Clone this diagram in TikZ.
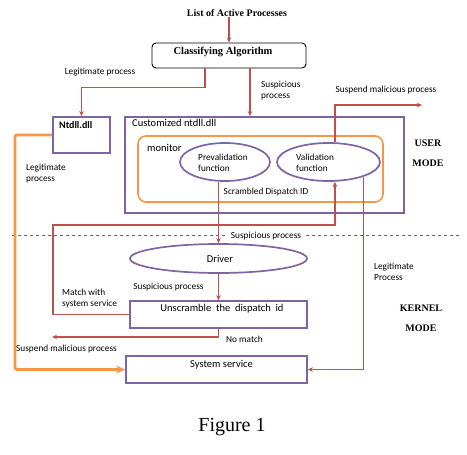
\documentclass[tikz,border=0pt]{standalone}
\usepackage{fontspec}
\setmainfont{Liberation Serif}
\newfontfamily\carl{Carlito}
\usetikzlibrary{arrows.meta,shapes.geometric}
\definecolor{redc}{RGB}{192,80,77}
\definecolor{purc}{RGB}{128,100,162}
\definecolor{orc}{RGB}{247,150,70}
\tikzset{
  redarr/.style={draw=redc, line width=1.3pt, -{Stealth[length=5pt,width=4.5pt]}},
  orarr/.style={draw=orc, line width=2.8pt, rounded corners=2pt, -{Stealth[length=9pt,width=8pt]}},
  pbox/.style={draw=purc, line width=1.7pt, rectangle, inner sep=0pt},
  pell/.style={draw=purc, line width=1.7pt, ellipse, inner sep=0pt},
  lbl/.style={font=\carl\fontsize{9.3}{11}\selectfont, inner sep=0pt, align=left},
  btxt/.style={font=\carl\fontsize{10.5}{12}\selectfont, inner sep=0pt},
  stxt/.style={font=\bfseries\fontsize{10}{12}\selectfont, inner sep=0pt},
}
\begin{document}
\begin{tikzpicture}[x=1pt,y=-1pt]
\useasboundingbox (0,0) rectangle (467,455);
% top
\node[stxt] (list) at (237,13) {List of Active Processes};
\node[draw=black, line width=0.9pt, rounded corners=4pt, minimum width=154pt, minimum height=25pt, inner sep=0pt] (classify) at (229,55.5) {};
\node[stxt, font=\bfseries\fontsize{10.5}{12}\selectfont] (classifyt) at (223,52) {Classifying Algorithm};
% boxes
\node[pbox, minimum width=57pt, minimum height=36pt] (ntdll) at (81.5,135) {};
\node[pbox, minimum width=279pt, minimum height=96pt] (custom) at (264.5,165) {};
\node[draw=orc, line width=1.6pt, rounded corners=8pt, minimum width=245pt, minimum height=66pt, inner sep=0pt] (monitor) at (260.5,169) {};
\node[pell, minimum width=90pt, minimum height=38pt] (prev) at (225,162) {};
\node[pell, minimum width=103pt, minimum height=38pt] (valid) at (328.5,162) {};
\node[pell, minimum width=177pt, minimum height=29pt] (driver) at (218.5,258.5) {};
\node[pbox, minimum width=177pt, minimum height=27pt] (unscr) at (218.5,314.5) {};
\node[pbox, minimum width=181pt, minimum height=27pt] (sys) at (216.5,369.5) {};
% texts in boxes
\node[btxt, anchor=west, font=\carl\bfseries\fontsize{10}{12}\selectfont] (ntdllt) at (59,125) {Ntdll.dll};
\node[btxt, anchor=west] (customt) at (132,123) {Customized ntdll.dll};
\node[btxt, anchor=west] (monitort) at (147,148) {monitor};
\node[lbl, anchor=west] (prevt) at (198,162.5) {Prevalidation\\function};
\node[lbl, anchor=west] (validt) at (296,162.5) {Validation\\function};
\node[lbl] (scr) at (266,192) {Scrambled Dispatch ID};
\node[btxt] (drivert) at (220,258.5) {Driver};
\node[btxt] (unscrt) at (222,309) {Unscramble\ \ the\ \ dispatch\ \ id};
\node[btxt] (syst) at (221.5,365) {System service};
% mode labels
\node[stxt] (user) at (428,143) {USER};
\node[stxt] (umode) at (428,163) {MODE};
\node[stxt] (kernel) at (421,308) {KERNEL};
\node[stxt] (kmode) at (421,328) {MODE};
% dashed line
\coordinate (dl1) at (12,235);
\coordinate (dl2) at (460,235);
\draw[gray!80!black, dashed, line width=0.6pt] (dl1) -- (dl2);
% coordinates
\coordinate (suspend) at (422,105);
\coordinate (ocorner) at (15,0);
\coordinate (mcorner) at (53,225);
\coordinate (nomatch) at (52,337);
% connectors
\draw[redarr] (classify.north |- list.south) -- (classify.north);
\draw[redarr] ([xshift=-24pt]classify.south) -- ++(0,19) -| (ntdll.north);
\draw[redarr] ([xshift=21pt]classify.south) -- ([xshift=21pt]classify.south |- custom.north);
\draw[redarr] ([xshift=6.5pt]valid.north) |- (suspend);
\draw[orarr] (ntdll.west) -| (ocorner |- sys.west) -- (sys.west);
\draw[redarr] (unscr.west) -| (mcorner) -| ([xshift=6.5pt]valid.south);
\draw[redarr] (driver.north |- prev.south) -- (driver.north);
\draw[redarr] (valid.-23) |- (sys.east);
\draw[redarr] (driver.south) -- (unscr.north);
\draw[redarr] (unscr.south) |- (nomatch);
% labels
\node[lbl, fill=white, inner xsep=3pt, inner ysep=1pt] (susp2) at (266,236) {Suspicious process};
\node[lbl] (legit1) at (100,72) {Legitimate process};
\node[lbl, anchor=west] (susp1) at (261,90.5) {Suspicious\\process};
\node[lbl] (suspm1) at (386,90) {Suspend malicious process};
\node[lbl, anchor=west] (legit2) at (26,173.5) {Legitimate\\process};
\node[lbl] (susp3) at (168.5,287) {Suspicious process};
\node[lbl, anchor=west] (match) at (62,298.5) {Match with\\system service};
\node[lbl, anchor=west] (nom) at (226,339) {No match};
\node[lbl, anchor=west] (suspm2) at (16,349) {Suspend malicious process};
\node[lbl, anchor=west] (legit3) at (374,272) {Legitimate\\Process};
\node[font=\fontsize{20}{24}\selectfont, inner sep=0pt] (fig) at (232,427) {Figure 1};
\end{tikzpicture}
\end{document}
